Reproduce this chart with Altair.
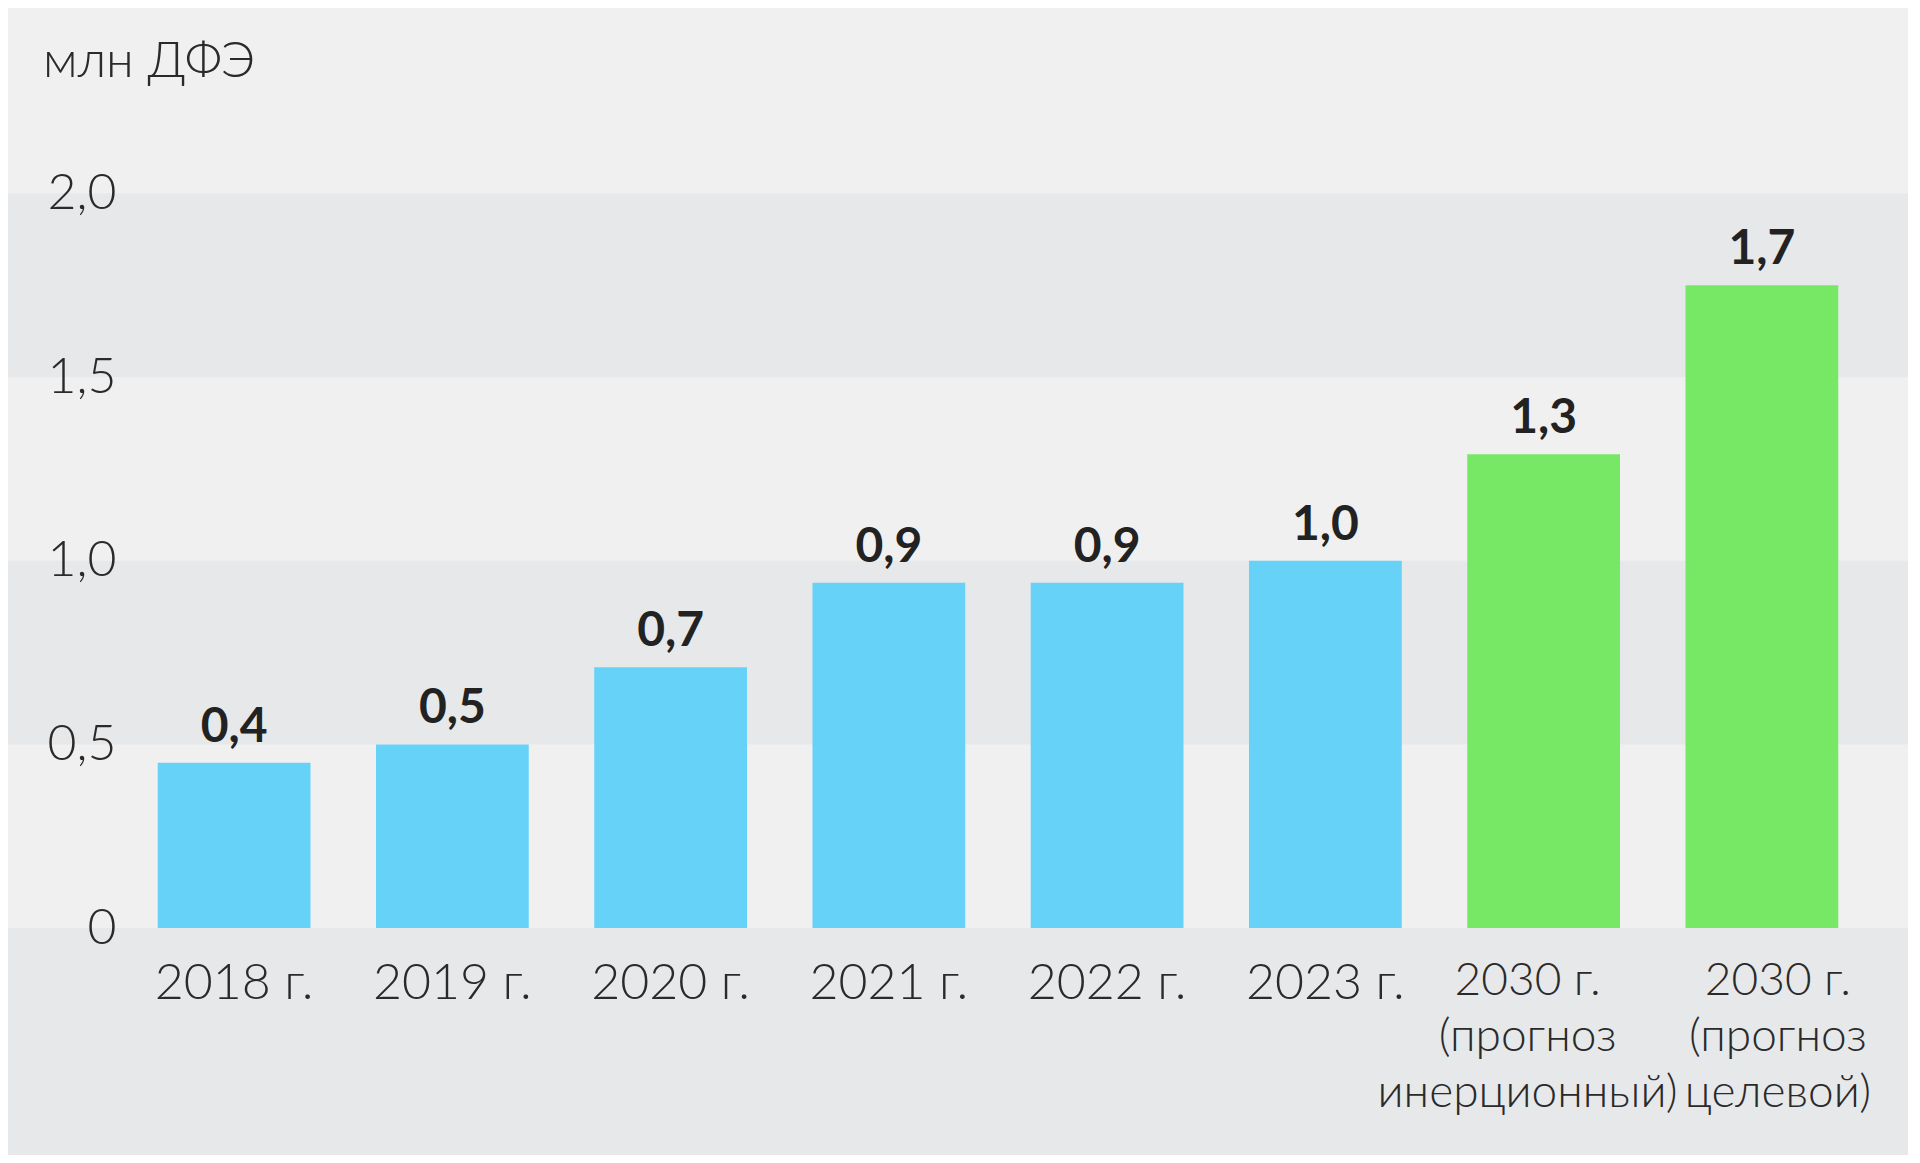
import altair as alt
import pandas as pd

categories = ["2018 г.", "2019 г.", "2020 г.", "2021 г.", "2022 г.", "2023 г.",
              "2030 г.|(прогноз|инерционный)", "2030 г.|(прогноз|целевой)"]
values = [0.45, 0.50, 0.71, 0.94, 0.94, 1.00, 1.29, 1.75]
value_labels = ["0,4", "0,5", "0,7", "0,9", "0,9", "1,0", "1,3", "1,7"]
kinds = ["факт", "факт", "факт", "факт", "факт", "факт", "прогноз", "прогноз"]

band_start = [1.5, 0.5, -1.0]
band_end = [2.0, 1.0, 0.0]

y_ticks = [0, 0.5, 1.0, 1.5, 2.0]

df = pd.DataFrame({"cat": categories, "value": values, "label": value_labels, "kind": kinds})
bands = pd.DataFrame({"start": band_start, "end": band_end})

FONT = "Lato"
W, H = 1900, 734.5

y_scale = alt.Scale(domain=[0, 2.0], nice=False, zero=True)
x_scale = alt.Scale(range=[117, 1863], paddingInner=0.3, paddingOuter=0.15)

band_layer = alt.Chart(bands).mark_rect(color="#e7e8ea", clip=False).encode(
    x=alt.value(0),
    x2=alt.value(W),
    y=alt.Y("start:Q", scale=y_scale, title=None,
            axis=alt.Axis(values=y_ticks, grid=False, domain=False, ticks=False,
                          labelPadding=-108, labelAlign="right", labelFontSize=50,
                          labelFont=FONT, labelFontWeight=300, labelColor="#2a2a2a",
                          zindex=1,
                          labelExpr="datum.value == 0 ? '0' : replace(format(datum.value, '.1f'), '.', ',')")),
    y2="end:Q",
)

x_label_size = {"condition": {"test": "indexof(datum.value, '|') >= 0", "value": 46}, "value": 50}
x_label_offset = {"condition": [
    {"test": "indexof(datum.value, 'инерционный') >= 0", "value": -16},
    {"test": "indexof(datum.value, 'целевой') >= 0", "value": 16},
], "value": 0}

bars = alt.Chart(df).mark_bar().encode(
    x=alt.X("cat:N", sort=categories, scale=x_scale, title=None,
            axis=alt.Axis(labelAngle=0, domain=False, ticks=False, labelPadding=30,
                          labelFontSize=x_label_size, labelOffset=x_label_offset,
                          labelFont=FONT, labelFontWeight=300,
                          labelColor="#2a2a2a", labelLineHeight=56, labelBaseline="top",
                          labelLimit=0, zindex=1,
                          labelExpr="split(datum.label, '|')")),
    y=alt.Y("value:Q", scale=y_scale),
    color=alt.Color("kind:N", scale=alt.Scale(domain=["факт", "прогноз"],
                                              range=["#66D2F8", "#77E866"]), legend=None),
)

texts = alt.Chart(df).mark_text(baseline="alphabetic", dy=-21, fontSize=48,
                                fontWeight="bold", font=FONT, color="#222222").encode(
    x=alt.X("cat:N", sort=categories, scale=x_scale),
    y=alt.Y("value:Q", scale=y_scale),
    text="label:N",
)

chart = alt.layer(band_layer, bars, texts).properties(
    width=W, height=H,
    title=alt.Title("млн ДФЭ", anchor="start", frame="group", dx=35, offset=82,
                    fontSize=50, fontWeight=300, font=FONT, color="#2a2a2a"),
    autosize=alt.AutoSizeParams(type="none"),
    padding={"left": 0, "right": 0, "top": 185.5, "bottom": 227},
    background="#f0f0f0",
).configure_view(stroke=None)

chart.save("out.html", embed_options={"renderer": "svg", "actions": False})
